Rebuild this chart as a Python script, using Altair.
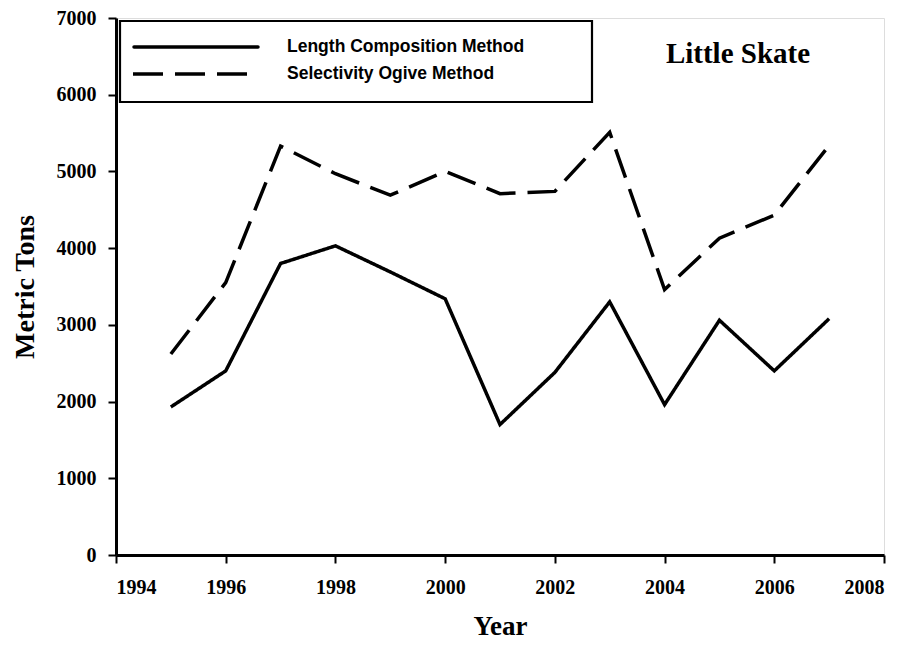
import altair as alt
import pandas as pd

years = [1995, 1996, 1997, 1998, 1999, 2000, 2001, 2002, 2003, 2004, 2005, 2006, 2007]
length_comp = [1930, 2400, 3800, 4030, 3690, 3340, 1700, 2380, 3300, 1960, 3060, 2400, 3080]
selectivity = [2620, 3550, 5330, 4970, 4690, 5000, 4710, 4740, 5510, 3460, 4130, 4430, 5340]
series_names = ["Length Composition Method", "Selectivity Ogive Method"]
title_text = "Little Skate"
x_ticks = [1994, 1996, 1998, 2000, 2002, 2004, 2006, 2008]
y_ticks = [0, 1000, 2000, 3000, 4000, 5000, 6000, 7000]

rows = []
for name, vals in zip(series_names, [length_comp, selectivity]):
    for yr, v in zip(years, vals):
        rows.append({"Year": yr, "Value": v, "Series": name})
df = pd.DataFrame(rows)

SERIF = "Liberation Serif"
SANS = "Liberation Sans"
W, H = 768, 537
DASH = [30, 12]

lines = alt.Chart(df).mark_line(color="black", strokeWidth=3.5, strokeCap="butt", strokeJoin="miter").encode(
    x=alt.X("Year:Q",
            scale=alt.Scale(domain=[1994, 2008], nice=False, zero=False),
            axis=alt.Axis(values=x_ticks, format="d", title="Year", grid=False,
                          tickSize=8, tickWidth=2, tickColor="black",
                          domainWidth=3, domainColor="black",
                          labelFont=SERIF, labelFontSize=20, labelFontWeight="bold",
                          labelColor="black", labelPadding=14,
                          titleFont=SERIF, titleFontSize=27, titleFontWeight="bold",
                          titleColor="black", titlePadding=16)),
    y=alt.Y("Value:Q",
            scale=alt.Scale(domain=[0, 7000], nice=False),
            axis=alt.Axis(values=y_ticks, format="d", title="Metric Tons", grid=False,
                          tickSize=8, tickWidth=2, tickColor="black",
                          domainWidth=3, domainColor="black",
                          labelFont=SERIF, labelFontSize=20, labelFontWeight="bold",
                          labelColor="black", labelPadding=12,
                          titleFont=SERIF, titleFontSize=28, titleFontWeight="bold",
                          titleColor="black", titlePadding=17)),
    strokeDash=alt.StrokeDash("Series:N",
                              scale=alt.Scale(domain=series_names, range=[[1, 0], DASH]),
                              legend=None),
    detail="Series:N",
)

legend_df = pd.DataFrame({"Series": series_names})

legend_box = alt.Chart(legend_df.head(1)).mark_rect(
    fill="white", stroke="black", strokeWidth=2.2
).encode(x=alt.value(4), x2=alt.value(476), y=alt.value(3), y2=alt.value(84))

leg_solid = alt.Chart(legend_df.head(1)).mark_rule(
    color="black", strokeWidth=3.5, strokeCap="round"
).encode(x=alt.value(18), x2=alt.value(142), y=alt.value(29))

leg_dash = alt.Chart(legend_df.head(1)).mark_rule(
    color="black", strokeWidth=3.5, strokeCap="butt", strokeDash=DASH
).encode(x=alt.value(17), x2=alt.value(142), y=alt.value(56))

leg_text1 = alt.Chart(legend_df.head(1)).mark_text(
    align="left", baseline="middle", font=SANS, fontSize=17.5, fontWeight="bold", color="black"
).encode(x=alt.value(171), y=alt.value(29), text=alt.value(series_names[0]))

leg_text2 = alt.Chart(legend_df.head(1)).mark_text(
    align="left", baseline="middle", font=SANS, fontSize=17.5, fontWeight="bold", color="black"
).encode(x=alt.value(171), y=alt.value(56), text=alt.value(series_names[1]))

title_mark = alt.Chart(legend_df.head(1)).mark_text(
    align="center", baseline="alphabetic", font=SERIF, fontSize=29, fontWeight="bold", color="black"
).encode(x=alt.value(622), y=alt.value(45), text=alt.value(title_text))

chart = alt.layer(lines, legend_box, leg_solid, leg_dash, leg_text1, leg_text2, title_mark).properties(
    width=W, height=H,
    autosize=alt.AutoSizeParams(type="none"),
    padding={"left": 108, "top": 10, "right": 17, "bottom": 84},
).configure_view(
    stroke="black", strokeWidth=3
).configure(background="white")

chart.save("out.html", embed_options={"renderer": "svg", "actions": False})
